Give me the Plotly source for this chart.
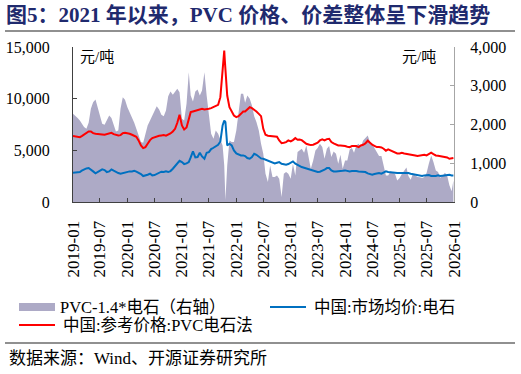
import plotly.graph_objects as go

# ---------------- data (semi-monthly: 1st and 16th of each month, 2019-01 .. 2025-12) ----------------
years = list(range(2019, 2026))
grid_dates = [f"{y}-{m:02d}-{d:02d}" for y in years for m in range(1, 13) for d in (1, 16)]

# 中国:参考价格:PVC电石法 (left axis, 元/吨)
red_2019 = [6376, 6343, 6311, 6279, 6376, 6504, 6698, 6826, 6826, 6665, 6601, 6601,
            6569, 6537, 6504, 6569, 6633, 6698, 6569, 6504, 6440, 6472, 6665, 6698]
red_2020 = [6665, 6601, 6504, 6440, 6311, 5957, 5474, 5216, 5313, 5635, 5989, 6182,
            6279, 6343, 6408, 6440, 6472, 6420, 6504, 6633, 6826, 7084, 7664, 8436]
red_2021 = [7406, 7020, 7213, 8050, 8694, 8758, 8823, 8952, 9016, 9016, 8952, 8952,
            9016, 9080, 9177, 9274, 9402, 10143, 12558, 13685, 10304, 9177, 8694, 8372]
red_2022 = [8211, 8308, 8533, 8758, 8758, 8919, 9177, 9080, 8952, 8758, 8533, 8308,
            7084, 6504, 6408, 6376, 6408, 6376, 6311, 5957, 5699, 5732, 5796, 5957]
red_2023 = [5860, 5989, 6182, 6021, 6054, 5989, 5764, 5635, 5571, 5506, 5538, 5667,
            5732, 5957, 6054, 5957, 6086, 6118, 5796, 5667, 5538, 5474, 5474, 5474]
red_2024 = [5410, 5345, 5313, 5410, 5410, 5410, 5313, 5474, 5538, 5667, 5925, 5699,
            5538, 5442, 5313, 5313, 5281, 5152, 4959, 5088, 4991, 4894, 4766, 4701]
red_2025 = [4701, 4766, 4701, 4669, 4669, 4605, 4540, 4508, 4444, 4476, 4508, 4572,
            4508, 4637, 4766, 4637, 4508, 4476, 4444, 4411, 4347, 4315, 4186, 4250]

# 中国:市场均价:电石 (left axis, 元/吨)
blue_2019 = [2834, 2834, 2866, 2898, 3027, 3156, 3252, 3284, 3156, 2962, 2769, 2898,
             3027, 3156, 3091, 2898, 2962, 3156, 3027, 2898, 2801, 2737, 2801, 2866]
blue_2020 = [2898, 2962, 2962, 3027, 2930, 2834, 2705, 2512, 2544, 2640, 2737, 2576,
             2608, 2705, 2834, 2930, 2898, 2962, 2898, 2995, 3220, 3478, 3800, 3993]
blue_2021 = [3864, 3671, 3735, 3864, 4315, 4894, 4315, 4347, 4766, 4411, 4186, 4766,
             4830, 5120, 5249, 5410, 5538, 5860, 7406, 7792, 5474, 5635, 5474, 4991]
blue_2022 = [4701, 4572, 4508, 4508, 4444, 4250, 4186, 4347, 4669, 4572, 4347, 4218,
             4186, 4089, 3961, 3864, 3767, 3735, 3800, 3864, 3703, 3639, 3606, 3671]
blue_2023 = [3800, 3928, 3703, 3574, 3510, 3381, 3317, 3252, 3220, 3156, 3059, 2962,
             2898, 2930, 2995, 3123, 3284, 3284, 3059, 2962, 2962, 2962, 2995, 3027]
blue_2024 = [3059, 2995, 2962, 2995, 3027, 2995, 2962, 2962, 2962, 2898, 2769, 2705,
             2640, 2705, 2769, 2801, 2737, 2834, 2962, 2898, 2898, 2866, 2834, 2801]
blue_2025 = [2801, 2801, 2866, 2866, 2801, 2737, 2705, 2640, 2576, 2544, 2512, 2576,
             2608, 2608, 2512, 2479, 2512, 2576, 2512, 2544, 2576, 2608, 2640, 2576]

# PVC-1.4*电石 (right axis, 元/吨)
gray_2019 = [2276, 2233, 2165, 2105, 2019, 1933, 1890, 2044, 2405, 2577, 2646, 2448,
             2233, 2019, 1993, 2105, 2233, 2165, 1993, 1821, 1847, 2405, 2706, 2637]
gray_2020 = [2448, 2319, 2216, 2044, 1890, 1701, 1546, 1529, 1735, 1976, 2105, 2233,
             2388, 2474, 2388, 2251, 2216, 2362, 2732, 2852, 2766, 2835, 2921, 2835]
gray_2021 = [2148, 2105, 2534, 3350, 2749, 2594, 2852, 2903, 2749, 2878, 3350, 2749,
             2190, 1761, 1632, 1847, 1761, 1615, 1460, 601, 945, 1589, 1546, 1546]
gray_2022 = [1847, 2362, 2792, 2792, 2560, 2749, 2663, 2491, 2216, 2062, 1847, 1503,
             1246, 730, 515, 945, 644, 644, 687, 601, 129, 730, 773, 730]
gray_2023 = [601, 988, 687, 1289, 1331, 1374, 1271, 1460, 1160, 859, 1074, 1331,
             1392, 1503, 1417, 1117, 1374, 1443, 1160, 1306, 1246, 988, 1220, 859]
gray_2024 = [1074, 1074, 1357, 1392, 1271, 1460, 1503, 1417, 1589, 1649, 1718, 1546,
             1495, 1392, 1271, 1185, 1185, 945, 687, 687, 790, 756, 730, 558]
gray_2025 = [618, 722, 816, 893, 670, 576, 730, 687, 644, 636, 618, 644,
             747, 988, 1203, 1031, 816, 773, 627, 670, 756, 687, 430, 275]

# extra observations (spike in Oct 2021 and last point)
extra_dates = ["2021-10-12", "2021-10-20", "2025-12-28"]
extra_red = [14651, 12880, 4250]
extra_blue = [7889, 7728, 2576]
extra_gray = [945, 50, 558]

tick_labels = ["2019-01", "2019-07", "2020-01", "2020-07", "2021-01", "2021-07", "2022-01",
               "2022-07", "2023-01", "2023-07", "2024-01", "2024-07", "2025-01", "2025-07", "2026-01"]

name_gray = "PVC-1.4*电石（右轴）"
name_blue = "中国:市场均价:电石"
name_red = "中国:参考价格:PVC电石法"

C_GRAY, C_BLUE, C_RED = "#ADAAC6", "#0070C0", "#FF0000"

# ---------------- assemble ----------------
red = red_2019 + red_2020 + red_2021 + red_2022 + red_2023 + red_2024 + red_2025
blue = blue_2019 + blue_2020 + blue_2021 + blue_2022 + blue_2023 + blue_2024 + blue_2025
gray = gray_2019 + gray_2020 + gray_2021 + gray_2022 + gray_2023 + gray_2024 + gray_2025
rows = sorted(zip(grid_dates + extra_dates, red + extra_red, blue + extra_blue, gray + extra_gray))
dates = [r[0] for r in rows]
red_s = [r[1] for r in rows]
blue_s = [r[2] for r in rows]
gray_s = [r[3] for r in rows]

FONT = "Liberation Serif, 'Noto Sans CJK SC', serif"
W, H = 521, 374
L, R, T, B = 73, 454, 47, 202


def px_x(p):
    return (p - L) / (R - L)


def px_y(p):
    return (B - p) / (B - T)


fig = go.Figure()
fig.add_trace(go.Scatter(x=dates, y=gray_s, name=name_gray, mode="lines", fill="tozeroy",
                         fillcolor=C_GRAY, line=dict(width=0, color=C_GRAY), yaxis="y"))
fig.add_trace(go.Scatter(x=dates, y=blue_s, name=name_blue, mode="lines",
                         line=dict(width=2, color=C_BLUE), yaxis="y2"))
fig.add_trace(go.Scatter(x=dates, y=red_s, name=name_red, mode="lines",
                         line=dict(width=2, color=C_RED), yaxis="y2"))

fig.update_layout(
    width=W, height=H,
    margin=dict(l=L, r=W - R, t=T, b=H - B, pad=0, autoexpand=False),
    paper_bgcolor="white", plot_bgcolor="white",
    font=dict(family=FONT, size=16, color="black"),
    showlegend=False,
    title=dict(text="<b>图5：2021 年以来，PVC 价格、价差整体呈下滑趋势</b>",
               x=6 / W, xref="container", xanchor="left",
               y=1 - 15 / H, yref="container", yanchor="middle",
               font=dict(family=FONT, size=21, color="#1F2A6E")),
    xaxis=dict(type="date", range=["2019-01-01", "2026-01-01"],
               tickvals=[t + "-01" for t in tick_labels], ticktext=tick_labels,
               tickangle=-90, ticks="inside", ticklen=4, tickcolor="#404040",
               showline=True, linecolor="#404040", linewidth=1, showgrid=False, zeroline=False,
               tickfont=dict(size=17, family=FONT), ticklabelstandoff=11),
    yaxis=dict(side="right", range=[0, 4000], tickvals=[0, 1000, 2000, 3000, 4000],
               tickformat=",", ticks="inside", ticklen=4, tickcolor="#A6A6A6",
               showline=True, linecolor="#A6A6A6", linewidth=1, showgrid=False, zeroline=False,
               tickfont=dict(size=16, family=FONT), ticklabelstandoff=12),
    yaxis2=dict(side="left", overlaying="y", range=[0, 15000], tickvals=[0, 5000, 10000, 15000],
                tickformat=",", ticks="inside", ticklen=4, tickcolor="#404040",
                showline=True, linecolor="#404040", linewidth=1, showgrid=False, zeroline=False,
                tickfont=dict(size=16, family=FONT), ticklabelstandoff=19),
)

# unit labels
fig.add_annotation(text="元/吨", x=px_x(78), y=px_y(57), xref="paper", yref="paper",
                   xanchor="left", yanchor="middle", showarrow=False, font=dict(size=15, family=FONT))
fig.add_annotation(text="元/吨", x=px_x(438), y=px_y(57), xref="paper", yref="paper",
                   xanchor="right", yanchor="middle", showarrow=False, font=dict(size=15, family=FONT))

# legend (drawn manually so it can span the full width like the reference)
legend_items = [(name_gray, "box", C_GRAY, 19, 307), (name_blue, "line", C_BLUE, 270, 307),
                (name_red, "line", C_RED, 19, 325)]
for text, kind, col, lx, ly in legend_items:
    if kind == "box":
        fig.add_shape(type="rect", xref="paper", yref="paper", x0=px_x(lx), x1=px_x(lx + 36),
                      y0=px_y(ly - 4), y1=px_y(ly + 4), line=dict(width=0), fillcolor=col)
        tx = lx + 39
    else:
        fig.add_shape(type="line", xref="paper", yref="paper", x0=px_x(lx), x1=px_x(lx + 36),
                      y0=px_y(ly), y1=px_y(ly), line=dict(color=col, width=2))
        tx = lx + 42
    fig.add_annotation(text=text, x=px_x(tx), y=px_y(ly), xref="paper", yref="paper",
                       xanchor="left", yanchor="middle", showarrow=False, font=dict(size=16.5, family=FONT))

# source
fig.add_annotation(text="数据来源：Wind、开源证券研究所", x=px_x(7), y=px_y(358), xref="paper", yref="paper",
                   xanchor="left", yanchor="middle", showarrow=False, font=dict(size=17, family=FONT))
# separator lines
for yy in (31, 343):
    fig.add_shape(type="line", xref="paper", yref="paper", x0=px_x(5), x1=px_x(515),
                  y0=px_y(yy), y1=px_y(yy), line=dict(color="#222222", width=1.2))

fig.write_html("out.html", config={"displayModeBar": False},
               post_script="document.body.style.margin='0';")
